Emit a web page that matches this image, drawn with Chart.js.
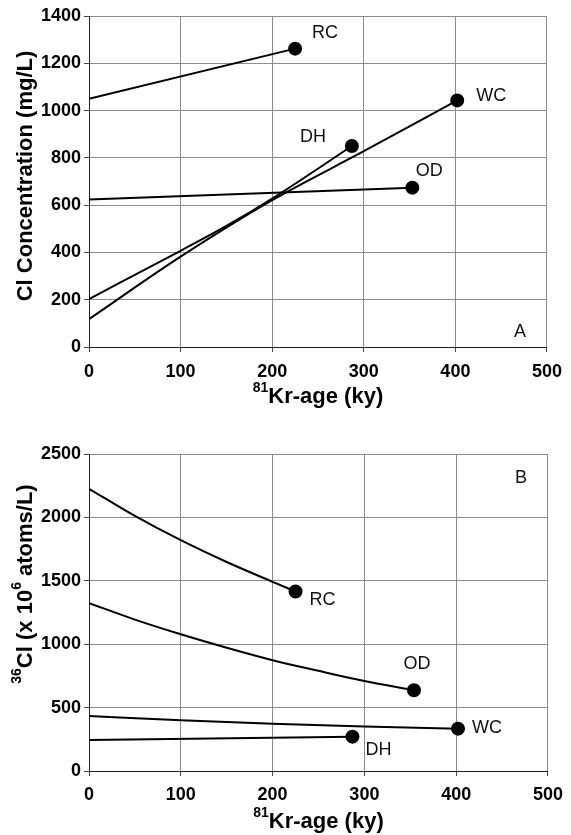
<!DOCTYPE html>
<html>
<head>
<meta charset="utf-8">
<script src="https://cdn.jsdelivr.net/npm/chart.js@4.4.1/dist/chart.umd.min.js"></script>
<style>
  body { margin: 0; background: #fff; }
  #wrap { position: relative; width: 571px; height: 835px; }
  canvas { position: absolute; left: 0; }
</style>
</head>
<body>
<div id="wrap">
  <canvas id="chart-a" width="571" height="420" style="top:0"></canvas>
  <canvas id="chart-b" width="571" height="415" style="top:420px"></canvas>
</div>
<script>
// panel A: Cl concentration (mg/L) vs 81Kr age (ky)
const rcAgeA = [0, 225];
const rcClA = [1050, 1262];
const wcAgeA = [0, 100, 200, 300, 402];
const wcClA = [118, 382, 621, 828, 1043];
const dhAgeA = [0, 100, 150, 200, 287];
const dhClA = [203, 407, 512, 628, 850];
const odAgeA = [0, 353];
const odClA = [624, 674];

// panel B: 36Cl (x 10^6 atoms/L) vs 81Kr age (ky)
const rcAgeB = [0, 50, 100, 150, 200, 225];
const rcCl36 = [2226, 2012, 1820, 1648, 1492, 1416];
const odAgeB = [0, 50, 100, 150, 200, 250, 300, 354];
const odCl36 = [1324, 1194, 1078, 972, 874, 790, 710, 637];
const wcAgeB = [0, 100, 200, 300, 402];
const wcCl36 = [434, 400, 372, 350, 334];
const dhAgeB = [0, 287];
const dhCl36 = [245, 271];

const ageTicks = [0, 100, 200, 300, 400, 500];
const clTicks = [0, 200, 400, 600, 800, 1000, 1200, 1400];
const cl36Ticks = [0, 500, 1000, 1500, 2000, 2500];

// axis titles, [text, superscript?]
const ageTitle = [["81", true], ["Kr-age (ky)", false]];
const clTitle = [["Cl Concentration (mg/L)", false]];
const cl36Title = [["36", true], ["Cl (x 10", false], ["6", true], [" atoms/L)", false]];

const FONT = '"Liberation Sans", Arial, Helvetica, sans-serif';

function pts(xs, ys) {
  return xs.map((x, i) => ({ x: x, y: ys[i] }));
}

function series(label, xs, ys) {
  return {
    label: label,
    data: pts(xs, ys),
    showLine: true,
    borderColor: "#000",
    backgroundColor: "#000",
    borderWidth: 2,
    cubicInterpolationMode: "monotone",
    pointRadius: (c) => (c.dataIndex === c.dataset.data.length - 1 ? 6 : 0),
    pointHoverRadius: 6,
  };
}

function drawRich(ctx, parts, cx, cy, vertical) {
  ctx.save();
  ctx.translate(cx, cy);
  if (vertical) ctx.rotate(-Math.PI / 2);
  ctx.fillStyle = "#000";
  ctx.textBaseline = "alphabetic";
  ctx.textAlign = "left";
  const fontOf = (sup) => "bold " + (sup ? 14 : 22) + "px " + FONT;
  let total = 0;
  parts.forEach((p) => {
    ctx.font = fontOf(p[1]);
    total += ctx.measureText(p[0]).width;
  });
  let x = -total / 2;
  parts.forEach((p) => {
    ctx.font = fontOf(p[1]);
    ctx.fillText(p[0], x, p[1] ? -3 : 8);
    x += ctx.measureText(p[0]).width;
  });
  ctx.restore();
}

const annotations = {
  id: "annotations",
  afterDatasetsDraw(chart, args, opts) {
    const ctx = chart.ctx;
    const a = chart.chartArea;
    ctx.save();
    ctx.font = "18px " + FONT;
    ctx.fillStyle = "#111";
    ctx.textAlign = "center";
    ctx.textBaseline = "middle";
    chart.data.datasets.forEach((ds, i) => {
      const meta = chart.getDatasetMeta(i);
      const last = meta.data[meta.data.length - 1];
      const off = opts.offsets[i];
      ctx.fillText(ds.label, last.x + off[0], last.y + off[1]);
    });
    const py = opts.panelAt[1] < 0 ? a.bottom + opts.panelAt[1] : a.top + opts.panelAt[1];
    ctx.fillText(opts.panel, a.right + opts.panelAt[0], py);
    ctx.restore();
    drawRich(ctx, opts.xTitle, (a.left + a.right) / 2, opts.xTitleY, false);
    drawRich(ctx, opts.yTitle, 24, opts.yTitleY, true);
  },
};

function makeChart(el, datasets, yTicks, o) {
  return new Chart(el, {
    type: "scatter",
    data: { datasets: datasets },
    plugins: [annotations],
    options: {
      responsive: false,
      animation: false,
      layout: { padding: { top: o.top, right: 11, left: 0, bottom: 0 } },
      plugins: {
        legend: { display: false },
        tooltip: { enabled: false },
        annotations: o,
      },
      scales: {
        x: {
          type: "linear",
          min: ageTicks[0],
          max: ageTicks[ageTicks.length - 1],
          afterBuildTicks: (s) => { s.ticks = ageTicks.map((v) => ({ value: v })); },
          afterFit: (s) => { s.height = o.xHeight; },
          ticks: {
            color: "#000",
            padding: o.xPad,
            callback: (v) => String(v),
            font: { family: FONT, size: 18, weight: "bold" },
          },
          grid: { color: "#8c8c8c", lineWidth: 1, tickLength: 5, tickColor: "#444" },
          border: { display: true, color: "#222", width: 1 },
        },
        y: {
          type: "linear",
          min: yTicks[0],
          max: yTicks[yTicks.length - 1],
          afterBuildTicks: (s) => { s.ticks = yTicks.map((v) => ({ value: v })); },
          afterFit: (s) => { s.width = 89; },
          ticks: {
            color: "#000",
            padding: 3,
            callback: (v) => String(v),
            font: { family: FONT, size: 18, weight: "bold" },
          },
          grid: { color: "#8c8c8c", lineWidth: 1, tickLength: 5, tickColor: "#444" },
          border: { display: true, color: "#222", width: 1 },
        },
      },
    },
  });
}

makeChart(
  document.getElementById("chart-a"),
  [
    series("RC", rcAgeA, rcClA),
    series("WC", wcAgeA, wcClA),
    series("DH", dhAgeA, dhClA),
    series("OD", odAgeA, odClA),
  ],
  clTicks,
  {
    top: 16,
    xHeight: 73,
    xPad: 9,
    xTitle: ageTitle,
    xTitleY: 395,
    yTitle: clTitle,
    yTitleY: 176,
    offsets: [[30, -16], [34, -4], [-39, -9], [17, -17]],
    panel: "A",
    panelAt: [-27, -15],
  }
);

makeChart(
  document.getElementById("chart-b"),
  [
    series("RC", rcAgeB, rcCl36),
    series("OD", odAgeB, odCl36),
    series("WC", wcAgeB, wcCl36),
    series("DH", dhAgeB, dhCl36),
  ],
  cl36Ticks,
  {
    top: 34,
    xHeight: 64,
    xPad: 8,
    xTitle: ageTitle,
    xTitleY: 400,
    yTitle: cl36Title,
    yTitleY: 164,
    offsets: [[27, 9], [3, -26], [29, -1], [26, 13]],
    panel: "B",
    panelAt: [-27, 24],
  }
);
</script>
</body>
</html>
